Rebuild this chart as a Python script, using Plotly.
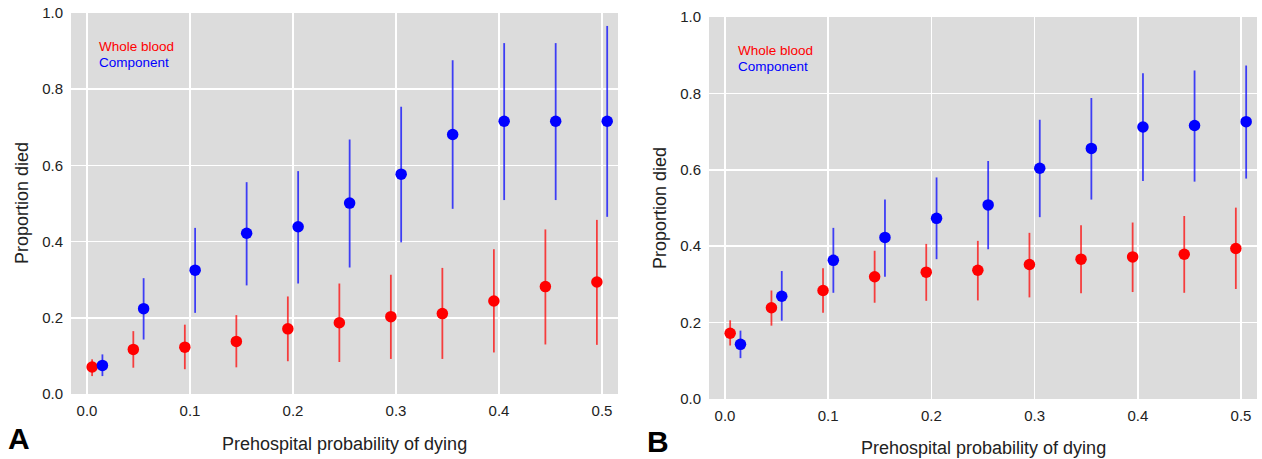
import plotly.graph_objects as go

# bin centres of prehospital probability of dying
bins = [0.01, 0.05, 0.10, 0.15, 0.20, 0.25, 0.30, 0.35, 0.40, 0.45, 0.50]
offset = 0.005

# Panel A
a_wb = [0.071, 0.117, 0.123, 0.138, 0.171, 0.187, 0.203, 0.211, 0.244, 0.282, 0.294]
a_wb_hi = [0.091, 0.165, 0.182, 0.207, 0.256, 0.290, 0.313, 0.331, 0.380, 0.432, 0.457]
a_wb_lo = [0.047, 0.069, 0.065, 0.070, 0.086, 0.084, 0.092, 0.092, 0.109, 0.130, 0.129]
a_co = [0.075, 0.224, 0.325, 0.422, 0.439, 0.501, 0.577, 0.681, 0.716, 0.716, 0.716]
a_co_hi = [0.104, 0.304, 0.436, 0.556, 0.585, 0.668, 0.754, 0.876, 0.921, 0.921, 0.966]
a_co_lo = [0.047, 0.143, 0.213, 0.285, 0.290, 0.332, 0.398, 0.486, 0.509, 0.509, 0.465]

# Panel B
b_wb = [0.172, 0.239, 0.284, 0.320, 0.332, 0.337, 0.352, 0.366, 0.372, 0.379, 0.394]
b_wb_hi = [0.206, 0.284, 0.342, 0.388, 0.406, 0.414, 0.435, 0.455, 0.462, 0.479, 0.501]
b_wb_lo = [0.140, 0.192, 0.226, 0.252, 0.257, 0.258, 0.266, 0.277, 0.280, 0.278, 0.288]
b_co = [0.143, 0.269, 0.363, 0.423, 0.473, 0.508, 0.604, 0.656, 0.712, 0.716, 0.726]
b_co_hi = [0.179, 0.335, 0.448, 0.522, 0.580, 0.623, 0.731, 0.788, 0.853, 0.860, 0.873]
b_co_lo = [0.107, 0.205, 0.278, 0.320, 0.366, 0.392, 0.476, 0.522, 0.571, 0.569, 0.577]

x_ticks = [0.0, 0.1, 0.2, 0.3, 0.4, 0.5]
x_ticklabels = ["0.0", "0.1", "0.2", "0.3", "0.4", "0.5"]
y_ticks = [0.0, 0.2, 0.4, 0.6, 0.8, 1.0]
y_ticklabels = ["0.0", "0.2", "0.4", "0.6", "0.8", "1.0"]

RED = "#ff0000"
BLUE = "#0000ff"
RED_BAR = "rgba(255,0,0,0.72)"
BLUE_BAR = "rgba(0,0,255,0.72)"
FONT = "Liberation Sans, Arial, sans-serif"

fig = go.Figure()


def add_series(xa, ya, x, y, hi, lo, col, barcol, name):
    fig.add_trace(go.Scatter(
        x=x, y=y, mode="markers", name=name, xaxis=xa, yaxis=ya,
        marker=dict(color=col, size=11.5, line=dict(width=0)),
        error_y=dict(type="data", symmetric=False,
                     array=[h - v for h, v in zip(hi, y)],
                     arrayminus=[v - l for v, l in zip(y, lo)],
                     color=barcol, thickness=1.8, width=0),
        showlegend=False,
    ))


x_wb = [b - offset for b in bins]
x_co = [b + offset for b in bins]

add_series("x", "y", x_wb, a_wb, a_wb_hi, a_wb_lo, RED, RED_BAR, "Whole blood")
add_series("x", "y", x_co, a_co, a_co_hi, a_co_lo, BLUE, BLUE_BAR, "Component")
add_series("x2", "y2", x_wb, b_wb, b_wb_hi, b_wb_lo, RED, RED_BAR, "Whole blood")
add_series("x2", "y2", x_co, b_co, b_co_hi, b_co_lo, BLUE, BLUE_BAR, "Component")

W, H = 1262, 459

axis_common = dict(showgrid=True, gridcolor="white", gridwidth=1.5, zeroline=False,
                   showline=False, ticks="", automargin=False,
                   tickfont=dict(family=FONT, size=15, color="#222222"))

fig.update_layout(
    template="none",
    width=W, height=H,
    margin=dict(l=0, r=0, t=0, b=0, autoexpand=False),
    showlegend=False,
    paper_bgcolor="white",
    plot_bgcolor="#dcdcdc",
    xaxis=dict(domain=[71 / W, 618 / W], range=[-0.0155, 0.5155], anchor="y",
               tickvals=x_ticks, ticktext=x_ticklabels, ticklabelstandoff=6, **axis_common),
    yaxis=dict(domain=[65 / H, 446 / H], range=[0, 1], anchor="x",
               tickvals=y_ticks, ticktext=y_ticklabels, ticklabelstandoff=7, **axis_common),
    xaxis2=dict(domain=[709 / W, 1257 / W], range=[-0.0155, 0.5155], anchor="y2",
                tickvals=x_ticks, ticktext=x_ticklabels, ticklabelstandoff=6, **axis_common),
    yaxis2=dict(domain=[60 / H, 442 / H], range=[0, 1], anchor="x2",
                tickvals=y_ticks, ticktext=y_ticklabels, ticklabelstandoff=7, **axis_common),
)

ann = []
# axis titles
for cx, cy, txt, ang in [
    (344.5, 444, "Prehospital probability of dying", 0),
    (983, 448, "Prehospital probability of dying", 0),
    (22, 203, "Proportion died", -90),
    (660, 208, "Proportion died", -90),
]:
    ann.append(dict(x=cx / W, y=1 - cy / H, xref="paper", yref="paper", text=txt,
                    showarrow=False, textangle=ang, xanchor="center", yanchor="middle",
                    font=dict(family=FONT, size=18, color="#222222")))
# panel letters
for cx, cy, txt in [(18.5, 438, "A"), (658, 441, "B")]:
    ann.append(dict(x=cx / W, y=1 - cy / H, xref="paper", yref="paper", text="<b>%s</b>" % txt,
                    showarrow=False, xanchor="center", yanchor="middle",
                    font=dict(family=FONT, size=30, color="black")))
# in-plot legends
for lx, ly1, ly2 in [(97, 46, 62), (736, 50, 67)]:
    ann.append(dict(x=lx / W, y=1 - ly1 / H, xref="paper", yref="paper", text="Whole blood",
                    showarrow=False, xanchor="left", yanchor="middle",
                    font=dict(family=FONT, size=13.5, color=RED)))
    ann.append(dict(x=lx / W, y=1 - ly2 / H, xref="paper", yref="paper", text="Component",
                    showarrow=False, xanchor="left", yanchor="middle",
                    font=dict(family=FONT, size=13.5, color=BLUE)))
fig.update_layout(annotations=ann)

fig.write_html("out.html",
               config={"displayModeBar": False, "staticPlot": True},
               post_script="document.body.style.margin='0';document.body.style.overflow='hidden';")
